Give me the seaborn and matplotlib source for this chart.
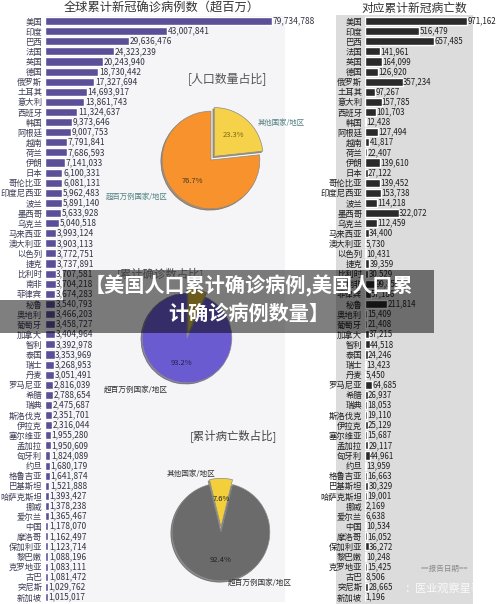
import matplotlib
matplotlib.use("Agg")
import matplotlib.pyplot as plt
from matplotlib.patches import Rectangle
import pandas as pd
import seaborn as sns

# 国家/地区（累计确诊超百万）
countries = ["美国", "印度", "巴西", "法国", "英国", "德国", "俄罗斯", "土耳其", "意大利", "西班牙",
             "韩国", "阿根廷", "越南", "荷兰", "伊朗", "日本", "哥伦比亚", "印度尼西亚", "波兰", "墨西哥",
             "乌克兰", "马来西亚", "澳大利亚", "以色列", "捷克", "比利时", "南非", "菲律宾", "秘鲁", "奥地利",
             "葡萄牙", "加拿大", "智利", "泰国", "瑞士", "丹麦", "罗马尼亚", "希腊", "瑞典", "斯洛伐克",
             "伊拉克", "塞尔维亚", "孟加拉", "匈牙利", "约旦", "格鲁吉亚", "巴基斯坦", "哈萨克斯坦", "挪威", "爱尔兰",
             "中国", "摩洛哥", "保加利亚", "黎巴嫩", "克罗地亚", "古巴", "突尼斯", "新加坡"]

# 累计确诊
confirmed = [79734788, 43007841, 29636476, 24323239, 20243940, 18730442, 17327694, 14693917, 13861743, 11324637,
             9373646, 9007753, 7791841, 7686593, 7141033, 6100331, 6081131, 5962483, 5891140, 5633928,
             5040518, 3993124, 3903113, 3772751, 3737891, 3707581, 3704218, 3674283, 3540793, 3466203,
             3458727, 3404964, 3392978, 3353969, 3268953, 3051491, 2816039, 2788654, 2475687, 2351701,
             2316044, 1955280, 1950609, 1824089, 1680179, 1641874, 1521888, 1393427, 1378238, 1365467,
             1178070, 1162497, 1123714, 1088196, 1083111, 1081472, 1029762, 1015017]

# 累计病亡
deaths = [971162, 516479, 657485, 141961, 164099, 126920, 357234, 97267, 157785, 101703,
          12428, 127494, 41817, 22407, 139610, 27122, 139452, 153738, 114218, 322072,
          112459, 34400, 5730, 10431, 39359, 30529, 99859, 57186, 211814, 15409,
          21408, 37215, 44518, 24246, 13423, 5450, 64685, 26937, 18053, 19110,
          25129, 15687, 29117, 44961, 13959, 16663, 30329, 19001, 2169, 6638,
          10534, 16052, 36272, 10248, 15425, 8506, 28665, 1196]

# 占比 (其他国家/地区, 超百万例国家/地区)
pop_share = [23.3, 76.7]
case_share = [6.8, 93.2]
death_share = [7.6, 92.4]

W, H = 500, 604


def box(x0, y0, x1, y1):
    # пиксели -> доли фигуры
    return [x0 / W, 1 - y1 / H, (x1 - x0) / W, (y1 - y0) / H]


def ftext(x, y, s, **kw):
    fig.text(x / W, 1 - y / H, s, **kw)


sns.set_theme(style="white")
plt.rcParams["font.family"] = ["Noto Sans CJK SC", "DejaVu Sans"]

fig = plt.figure(figsize=(5, 6.04), dpi=100)
fig.patch.set_facecolor("white")

df = pd.DataFrame({"国家": countries, "确诊": confirmed, "病亡": deaths})

# 左: 累计确诊
ax1 = fig.add_axes(box(45, 16, 285, 602))
sns.barplot(data=df, x="确诊", y="国家", color="#5b4f98", saturation=1, width=0.8, ax=ax1)
ax1.set_xlim(0, 84.3e6)
ax1.set_ylim(len(countries) - 0.5, -0.5)
ax1.set_facecolor("#f5f5f8")
for i, v in enumerate(confirmed):
    ax1.text(v + 0.25e6, i, f"{v:,}", va="center", ha="left", fontsize=6, color="#333344", clip_on=False)

# 右: 病亡
fig.add_artist(Rectangle((336 / W, 0), (473 - 336) / W, 1 - 15 / H, transform=fig.transFigure,
                         color="#dcdcdc", lw=0, zorder=-1))
ax2 = fig.add_axes(box(365, 16, 473, 602))
sns.barplot(data=df, x="病亡", y="国家", color="#2a2a2a", saturation=1, width=0.8, ax=ax2)
ax2.set_xlim(0, 1028000)
ax2.set_ylim(len(countries) - 0.5, -0.5)
ax2.set_facecolor("#dcdcdc")
for i, v in enumerate(deaths):
    ax2.text(v + 2000, i, f"{v:,}", va="center", ha="left", fontsize=5.7, color="#1e1e1e", clip_on=False)

for ax, c in [(ax1, "#3d3d55"), (ax2, "#1e1e1e")]:
    ax.set_xlabel("")
    ax.set_ylabel("")
    ax.set_xticks([])
    ax.tick_params(axis="y", length=0, pad=2, labelsize=6, labelcolor=c)
    sns.despine(ax=ax, left=True, bottom=True)

ftext(162, 8, "全球累计新冠确诊病例数（超百万）", ha="center", va="center", fontsize=8.8, color="#333333")
ftext(414, 8, "对应累计新冠病亡数", ha="center", va="center", fontsize=8.5, color="#333333")


# 饼图
def draw_pie(bx, vals, cols, start, pct_col, hide_small=False):
    ax = fig.add_axes(bx)
    wedges, texts, autotexts = ax.pie(vals, colors=cols, startangle=start, counterclock=False,
                                      explode=(0.1, 0), autopct="%1.1f%%", pctdistance=0.58,
                                      shadow=True,
                                      wedgeprops=dict(edgecolor="#8a8a8a", linewidth=0.5),
                                      textprops=dict(fontsize=5.5, color=pct_col))
    if hide_small:
        autotexts[0].set_text("")
    ax.set_xlim(-1.25, 1.25)
    ax.set_ylim(-1.25, 1.25)
    ax.set_aspect("equal")
    ax.axis("off")
    return autotexts


at1 = draw_pie(box(150, 99, 272, 221), pop_share, ["#f6d24a", "#f7922c"], 90, "#4a3a20")
at1[0].set_color("#7a6a10")
draw_pie(box(131, 282, 243, 394), case_share, ["#d8b83a", "#6a5bd0"], 90, "#22224a", hide_small=True)
draw_pie(box(160, 471, 282, 593), death_share, ["#f3cf3c", "#6b6b6b"], 90 + 13.7, "#222222")

ftext(227, 80, "[人口数量占比]", ha="center", va="center", fontsize=8.6, color="#555555")
ftext(281, 123, "其他国家/地区", ha="center", va="center", fontsize=5.3, color="#4f7f7f")
ftext(137, 197, "超百万例国家/地区", ha="center", va="center", fontsize=5.3, color="#4f8080")

ftext(160, 274, "[累计确诊数占比]", ha="center", va="center", fontsize=8.2, color="#444444")
ftext(136, 390, "超百万例国家/地区", ha="center", va="center", fontsize=5.5, color="#333333")

ftext(233, 436, "[累计病亡数占比]", ha="center", va="center", fontsize=8.2, color="#444444")
ftext(191, 474, "其他国家/地区", ha="center", va="center", fontsize=5.5, color="#333333")
ftext(260, 583, "超百万例国家/地区", ha="center", va="center", fontsize=5.5, color="#333333")

ftext(444, 569, "==报告日期==", ha="center", va="center", fontsize=5.5, color="#888888")

# 标题横幅
fig.add_artist(Rectangle((63 / W, 1 - 300 / H), (434 - 63) / W, 30 / H, transform=fig.transFigure,
                         color="black", alpha=0.5, lw=0))
fig.add_artist(Rectangle((0, 1 - 333 / H), 434 / W, 33 / H, transform=fig.transFigure,
                         color="black", alpha=0.5, lw=0))
ftext(249, 286, "【美国人口累计确诊病例,美国人口累", ha="center", va="center", fontsize=14.5,
      color="white", fontweight="bold")
ftext(249, 313, "计确诊病例数量】", ha="center", va="center", fontsize=14.5,
      color="white", fontweight="bold")

ftext(404, 588, "：医业观察星哥", ha="left", va="center", fontsize=8, color="white", alpha=0.85)

fig.savefig("out.png", dpi=100)
